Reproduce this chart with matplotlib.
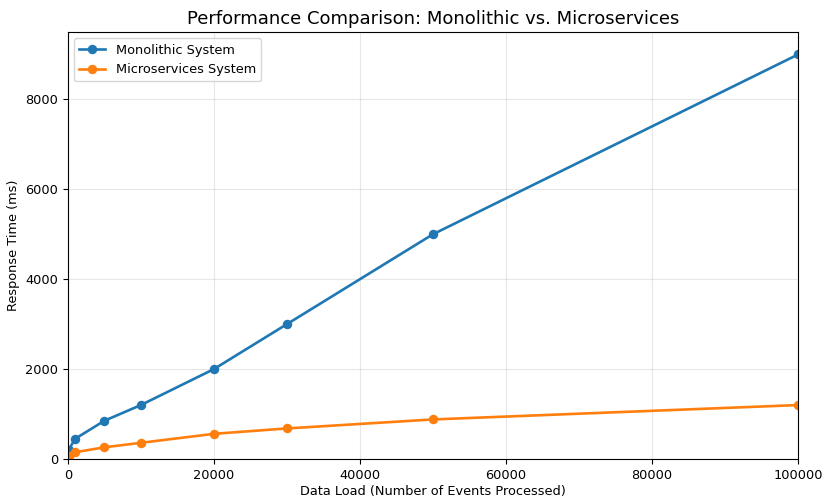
import matplotlib
matplotlib.use('Agg')
import matplotlib.pyplot as plt

# data load (events processed)
data_load = [100, 1000, 5000, 10000, 20000, 30000, 50000, 100000]
# response times in ms
monolithic_ms = [200, 450, 850, 1200, 2000, 3000, 5000, 9000]
microservices_ms = [60, 150, 260, 360, 560, 680, 880, 1200]

fig = plt.figure(figsize=(8.27, 5.0), dpi=100)
ax = fig.add_axes([0.082, 0.082, 0.883, 0.854])

ax.plot(data_load, monolithic_ms, marker='o', lw=1.9, markersize=5.8,
        color='#1f77b4', label='Monolithic System')
ax.plot(data_load, microservices_ms, marker='o', lw=1.9, markersize=5.8,
        color='#ff7f0e', label='Microservices System')

ax.set_xlim(0, 100000)
ax.set_ylim(0, 9500)
ax.set_title('Performance Comparison: Monolithic vs. Microservices', fontsize=13, pad=6)
ax.set_xlabel('Data Load (Number of Events Processed)', fontsize=9.3, labelpad=2)
ax.set_ylabel('Response Time (ms)', fontsize=9.3)
ax.tick_params(labelsize=9.3)
ax.legend(loc='upper left', fontsize=9.3)
ax.grid(True, alpha=0.3)

fig.savefig('out.png', dpi=100)
